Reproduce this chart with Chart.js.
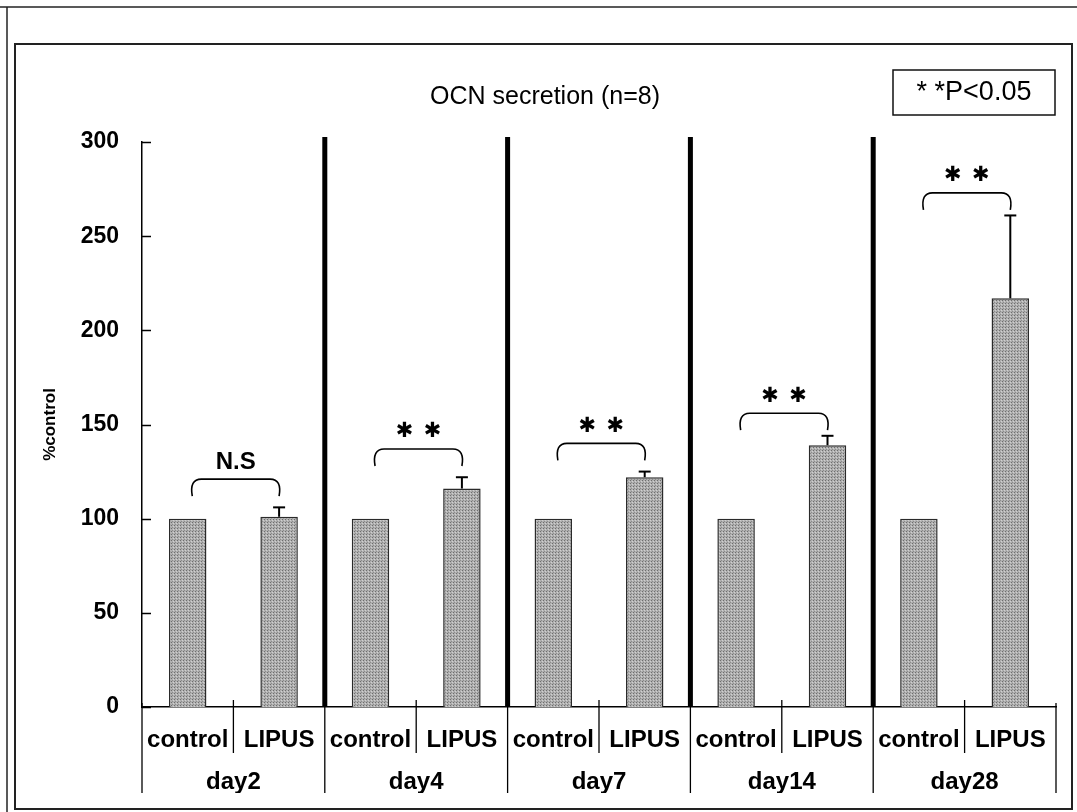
<!DOCTYPE html>
<html><head><meta charset="utf-8">
<script src="https://cdn.jsdelivr.net/npm/chart.js@4.4.1/dist/chart.umd.min.js"></script>
<style>html,body{margin:0;padding:0;background:#fff;}#wrap{width:1077px;height:812px;position:relative;}</style>
</head><body><div id="wrap"><canvas id="c" width="1077" height="812"></canvas></div>
<script>
// ---- data ----
const days = ['day2', 'day4', 'day7', 'day14', 'day28'];
const groups = ['control', 'LIPUS'];
const controlValues = [100, 100, 100, 100, 100];
const lipusValues = [101, 116, 122, 139, 217];
const lipusSD = [5, 6, 3, 5, 44];
const yTicks = [0, 50, 100, 150, 200, 250, 300];
const significance = ['N.S', '**', '**', '**', '**'];
const bracketTop = [121, 137, 140, 156, 273];
const chartTitle = 'OCN secretion (n=8)';
const legendText = '* *P<0.05';
const yTitle = '%control';

const subLabels = [];
const barValues = [];
days.forEach((d, i) => {
  subLabels.push(groups[0], groups[1]);
  barValues.push(controlValues[i], lipusValues[i]);
});

const SANS = '"Liberation Sans", Arial, sans-serif';

// stipple pattern for bars (deterministic)
function makePattern(ctx) {
  const p = document.createElement('canvas');
  p.width = 3; p.height = 3;
  const c = p.getContext('2d');
  c.fillStyle = '#b0b0b0'; c.fillRect(0, 0, 3, 3);
  c.fillStyle = '#6e6e6e'; c.fillRect(0, 0, 1, 1);
  c.fillStyle = '#d0d0d0'; c.fillRect(2, 1, 1, 1);
  c.fillStyle = '#8c8c8c'; c.fillRect(1, 2, 1, 1);
  return ctx.createPattern(p, 'repeat');
}

const deco = {
  id: 'deco',
  beforeDraw(chart) {
    const ctx = chart.ctx;
    ctx.save(); ctx.fillStyle = '#fff'; ctx.fillRect(0, 0, chart.width, chart.height); ctx.restore();
  },
  beforeDatasetsDraw(chart) {
    const { ctx, chartArea: a, scales: { x } } = chart;
    ctx.save();
    ctx.fillStyle = '#000';
    for (let g = 1; g < days.length; g++) {
      const xb = (x.getPixelForValue(2 * g - 1) + x.getPixelForValue(2 * g)) / 2;
      ctx.fillRect(xb - 2.5, a.top - 5, 5, a.bottom - a.top + 5);
    }
    ctx.restore();
  },
  afterDraw(chart) {
    const { ctx, chartArea: a, scales: { x, x2, y } } = chart;
    ctx.save();
    // outer frames
    ctx.strokeStyle = '#222';
    ctx.lineWidth = 1.5;
    ctx.beginPath(); ctx.moveTo(0, 7); ctx.lineTo(1077, 7); ctx.stroke();
    ctx.beginPath(); ctx.moveTo(7, 7); ctx.lineTo(7, 812); ctx.stroke();
    ctx.lineWidth = 2;
    ctx.strokeRect(15, 44, 1057, 765);

    // title
    ctx.fillStyle = '#000';
    ctx.textAlign = 'center'; ctx.textBaseline = 'middle';
    ctx.font = '25px ' + SANS;
    ctx.fillText(chartTitle, 545, 97);

    // legend box
    ctx.lineWidth = 1.5; ctx.strokeStyle = '#111';
    ctx.strokeRect(893, 70, 162, 45);
    ctx.font = '27px ' + SANS;
    ctx.fillText(legendText, 974, 93);

    // y tick marks (inward)
    ctx.strokeStyle = '#000'; ctx.lineWidth = 1.5;
    yTicks.forEach(v => {
      const py = Math.round(y.getPixelForValue(v)) + 0.5;
      ctx.beginPath(); ctx.moveTo(a.left, py); ctx.lineTo(a.left + 9, py); ctx.stroke();
    });

    // category-axis dividers
    const catW = x.getPixelForValue(1) - x.getPixelForValue(0);
    ctx.lineWidth = 1.3;
    for (let g = 0; g <= days.length; g++) {
      const xb = a.left + g * 2 * catW;
      ctx.beginPath(); ctx.moveTo(xb, a.bottom - 4); ctx.lineTo(xb, x2.bottom); ctx.stroke();
    }
    for (let g = 0; g < days.length; g++) {
      const xm = a.left + (2 * g + 1) * catW;
      ctx.beginPath(); ctx.moveTo(xm, a.bottom - 7); ctx.lineTo(xm, x.bottom); ctx.stroke();
    }

    // error bars, brackets, significance marks
    for (let g = 0; g < days.length; g++) {
      const xc = x.getPixelForValue(2 * g + 1);
      const xcc = x.getPixelForValue(2 * g);
      const pBase = y.getPixelForValue(lipusValues[g]);
      const pTop = y.getPixelForValue(lipusValues[g] + lipusSD[g]);
      ctx.strokeStyle = '#000'; ctx.lineWidth = 2;
      ctx.beginPath(); ctx.moveTo(xc, pBase); ctx.lineTo(xc, pTop); ctx.stroke();
      ctx.beginPath(); ctx.moveTo(xc - 6, pTop); ctx.lineTo(xc + 6, pTop); ctx.stroke();

      const xl = xcc + 0.05 * catW;
      const xr = xc;
      const yb = y.getPixelForValue(bracketTop[g]);
      const drop = 17, r = 9;
      ctx.lineWidth = 1.6;
      ctx.beginPath();
      ctx.moveTo(xl, yb + drop);
      ctx.bezierCurveTo(xl - 2, yb + 6, xl + 1, yb, xl + r, yb);
      ctx.lineTo(xr - r, yb);
      ctx.bezierCurveTo(xr - 1, yb, xr + 2, yb + 6, xr, yb + drop);
      ctx.stroke();

      const xm = (xl + xr) / 2;
      const ym = yb - 17;
      if (significance[g] === '**') {
        ctx.font = 'bold 21px "DejaVu Sans", sans-serif';
        ctx.fillText('\u2731', xm - 14, ym);
        ctx.fillText('\u2731', xm + 14, ym);
      } else {
        ctx.font = 'bold 24px ' + SANS;
        ctx.fillText(significance[g], xm, ym);
      }
    }
    ctx.restore();
  }
};

const cv = document.getElementById('c');
const ctx = cv.getContext('2d');

new Chart(ctx, {
  type: 'bar',
  data: {
    labels: subLabels,
    datasets: [{
      data: barValues,
      backgroundColor: makePattern(ctx),
      borderColor: '#2a2a2a',
      borderWidth: 1.5,
      barPercentage: 0.41,
      categoryPercentage: 1.0
    }]
  },
  options: {
    responsive: false,
    animation: false,
    devicePixelRatio: 1,
    layout: { padding: { left: 20, right: 21, top: 142, bottom: 19 } },
    plugins: { legend: { display: false }, tooltip: { enabled: false }, title: { display: false } },
    scales: {
      x: {
        type: 'category', position: 'bottom', weight: 0, offset: true,
        grid: { display: false, drawTicks: false },
        border: { display: true, color: '#000', width: 1.5 },
        ticks: { autoSkip: false, maxRotation: 0, minRotation: 0, padding: 19, color: '#000',
                 font: { family: SANS, size: 24, weight: 'bold' } },
        afterFit(s) { s.height = 46; }
      },
      x2: {
        type: 'category', labels: days, position: 'bottom', weight: 1, offset: true,
        grid: { display: false, drawTicks: false },
        border: { display: false },
        ticks: { autoSkip: false, maxRotation: 0, minRotation: 0, padding: 15, color: '#000',
                 font: { family: SANS, size: 24, weight: 'bold' } },
        afterFit(s) { s.height = 40; }
      },
      y: {
        min: 0, max: 300, position: 'left',
        afterBuildTicks(s) { s.ticks = yTicks.map(v => ({ value: v })); },
        grid: { display: false, drawTicks: false },
        border: { display: true, color: '#000', width: 1.5 },
        ticks: { padding: 23, color: '#000', font: { family: SANS, size: 23, weight: 'bold' } },
        title: { display: true, text: yTitle, color: '#000',
                 font: { family: SANS, size: 17, weight: 'bold' }, padding: { top: 20, bottom: 0 } },
        afterFit(s) { s.width = 122; }
      }
    }
  },
  plugins: [deco]
});
</script></body></html>
